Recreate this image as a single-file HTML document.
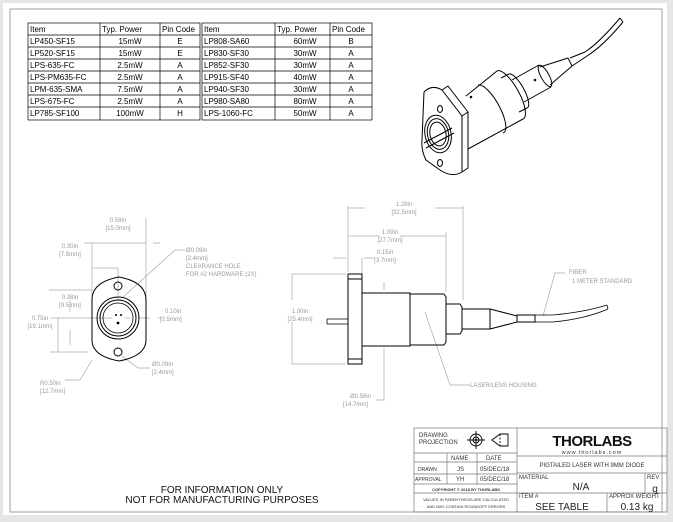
<!DOCTYPE html>
<html><head><meta charset="utf-8"><style>
html,body{margin:0;padding:0;background:#e6e6e6;}
svg{display:block;font-family:"Liberation Sans",sans-serif;}
.d{font-size:6px;fill:#9a9a9a;}
.t{font-size:8px;fill:#000;}
.k{stroke:#000;fill:none;stroke-width:1;}
.g{stroke:#aaa;fill:none;stroke-width:0.7;}
</style></head><body>
<svg width="673" height="522" viewBox="0 0 673 522">
<rect x="0" y="0" width="673" height="522" fill="#e6e6e6"/>
<rect x="3" y="3" width="664" height="512" fill="#fff"/>
<rect x="10" y="9" width="652" height="503" fill="none" stroke="#888" stroke-width="0.8"/>

<!-- tables -->
<g stroke="#000" stroke-width="0.7" fill="none">
<rect x="28" y="23" width="172" height="97"/>
<line x1="100" y1="23" x2="100" y2="120"/><line x1="160" y1="23" x2="160" y2="120"/>
<rect x="202" y="23" width="170" height="97"/>
<line x1="275" y1="23" x2="275" y2="120"/><line x1="330" y1="23" x2="330" y2="120"/>
<path d="M28 35H200M28 47H200M28 59H200M28 71H200M28 83H200M28 95H200M28 107H200"/>
<path d="M202 35H372M202 47H372M202 59H372M202 71H372M202 83H372M202 95H372M202 107H372"/>
</g>
<g class="t">
<text x="30" y="32">Item</text><text x="102" y="32">Typ. Power</text><text x="162" y="32">Pin Code</text>
<text x="30" y="44">LP450-SF15</text><text x="30" y="56">LP520-SF15</text><text x="30" y="68">LPS-635-FC</text><text x="30" y="80">LPS-PM635-FC</text><text x="30" y="92">LPM-635-SMA</text><text x="30" y="104">LPS-675-FC</text><text x="30" y="116">LP785-SF100</text>
<g text-anchor="middle"><text x="130" y="44">15mW</text><text x="130" y="56">15mW</text><text x="130" y="68">2.5mW</text><text x="130" y="80">2.5mW</text><text x="130" y="92">7.5mW</text><text x="130" y="104">2.5mW</text><text x="130" y="116">100mW</text>
<text x="180" y="44">E</text><text x="180" y="56">E</text><text x="180" y="68">A</text><text x="180" y="80">A</text><text x="180" y="92">A</text><text x="180" y="104">A</text><text x="180" y="116">H</text></g>
<text x="204" y="32">Item</text><text x="277" y="32">Typ. Power</text><text x="332" y="32">Pin Code</text>
<text x="204" y="44">LP808-SA60</text><text x="204" y="56">LP830-SF30</text><text x="204" y="68">LP852-SF30</text><text x="204" y="80">LP915-SF40</text><text x="204" y="92">LP940-SF30</text><text x="204" y="104">LP980-SA80</text><text x="204" y="116">LPS-1060-FC</text>
<g text-anchor="middle"><text x="305" y="44">60mW</text><text x="305" y="56">30mW</text><text x="305" y="68">30mW</text><text x="305" y="80">40mW</text><text x="305" y="92">30mW</text><text x="305" y="104">80mW</text><text x="305" y="116">50mW</text>
<text x="351" y="44">B</text><text x="351" y="56">A</text><text x="351" y="68">A</text><text x="351" y="80">A</text><text x="351" y="92">A</text><text x="351" y="104">A</text><text x="351" y="116">A</text></g>
</g>

<!-- 3D view -->
<g class="k" stroke-width="0.9">
<!-- fiber -->
<path d="M585 52 Q600 42 620 18 M587 56 Q603 46 623 22 M620 18 L623 22"/>
<!-- sleeve -->
<path d="M570 58 L585 52 M572 66 L587 56"/>
<!-- cone -->
<path d="M540 67 L568 58 M550 85 L572 66 M568 58 L572 66"/>
<!-- neck -->
<path d="M512 80 L539 65 M524 102 L551 87"/>
<ellipse cx="545" cy="76" rx="12" ry="4" transform="rotate(61 545 76)"/>
<!-- step ring -->
<path d="M501 78 L509 74 M519 112 L527 108"/>
<path d="M509 74 A19 6 61 0 1 527 108"/>
<!-- body -->
<path d="M466 96 L497 71 M468 149 L523 119"/>
<path d="M497 71 A27 9 61 0 1 523 119"/>
<path d="M478 85 A27 9 61 0 1 503 133"/>
<!-- flange -->
<path d="M424 92 Q432 84 442 90 L462 116 L462 172 Q452 178 440 170 L426 160 Q421 150 422 140 Z" fill="#fff"/>
<path d="M442 90 L448 86 L468 112 L468 168 L462 172 M462 116 L468 112"/>
<ellipse cx="438" cy="134" rx="13" ry="19" transform="rotate(-12 438 134)"/>
<ellipse cx="438" cy="134" rx="10.5" ry="15.5" transform="rotate(-12 438 134)"/>
<ellipse cx="438" cy="134" rx="8" ry="12" transform="rotate(-12 438 134)"/>
<ellipse cx="440" cy="109" rx="2.5" ry="3.5"/><ellipse cx="440" cy="163" rx="2.5" ry="3.5"/>
<path d="M424 143 L452 128 M426 148 L454 133"/>
<circle cx="471" cy="97" r="0.8"/><circle cx="535" cy="80" r="0.8"/>
</g>

<!-- front view -->
<g class="g">
<path d="M92 243V300M146 218V300M84 243H92M153 243H160M92 243h54"/>
<path d="M92 268H108M118 268V300M108 268h10"/>
<path d="M50 318H88M50 352H88M58 318V352M49 290H92M70 318H112M70 300V312M70 330V345"/>
<path d="M138 318H150 M125 318H130 M158 318h4"/>
<path d="M122 298 L175 250 H185"/>
<path d="M122 356 L138 368 H150"/>
<path d="M92 360 L80 380 H65"/>
</g>
<g class="k" stroke-width="1.1">
<path d="M92 300 Q92 282 119 277 Q146 282 146 300 V340 Q146 356 119 361 Q92 356 92 340Z"/>
<circle cx="118" cy="318" r="21"/><circle cx="118" cy="318" r="18"/><circle cx="118" cy="318" r="15" stroke-width="0.8"/>
<circle cx="118" cy="286" r="4"/><circle cx="118" cy="352" r="4"/>
</g>
<circle cx="116" cy="315" r="1" fill="#000"/><circle cx="121" cy="315" r="1" fill="#000"/><circle cx="118" cy="323" r="1.4" fill="#000"/>
<g class="d">
<text x="118" y="222" text-anchor="middle">0.59in</text><text x="118" y="230" text-anchor="middle">[15.0mm]</text>
<text x="70" y="248" text-anchor="middle">0.30in</text><text x="70" y="256" text-anchor="middle">[7.5mm]</text>
<text x="70" y="299" text-anchor="middle">0.38in</text><text x="70" y="307" text-anchor="middle">[9.5mm]</text>
<text x="40" y="320" text-anchor="middle">0.75in</text><text x="40" y="328" text-anchor="middle">[19.1mm]</text>
<text x="165" y="313">0.10in</text><text x="160" y="321">[2.5mm]</text>
<text x="186" y="252">Ø0.09in</text><text x="186" y="260">[2.4mm]</text><text x="186" y="268">CLEARANCE HOLE</text><text x="186" y="276">FOR #2 HARDWARE (2X)</text>
<text x="152" y="366">Ø0.09in</text><text x="152" y="374">[2.4mm]</text>
<text x="40" y="385">R0.50in</text><text x="40" y="393">[12.7mm]</text>
</g>

<!-- side view -->
<g class="g">
<path d="M348 206V272M463 206V300M348 208H365M435 208H463M348 236H380M400 236H446M446 232V292M333 258H346M364 258H374M362 258V292"/>
<path d="M292 274H346M292 364H346M292 274V300M292 322V364"/>
<path d="M384 290V282M384 348V400H376"/>
<path d="M425 312 L450 385 H470"/>
<path d="M543 316 L555 273 H565"/>
</g>
<g class="k">
<rect x="348" y="274" width="14" height="90"/><path d="M348 279H362M348 359H362"/>
<rect x="362" y="293" width="48" height="53"/>
<path d="M410 294H444L446 297V342L444 345H410Z"/>
<path d="M446 304H460L462 307V331L460 334H446Z"/>
<rect x="462" y="309" width="28" height="20"/>
<path d="M490 309L517 316V322L490 329"/>
<rect x="517" y="315" width="18" height="7"/>
<path d="M535 315H553Q585 312 607 305M535 322H553Q585 319 608 309M607 305L608 309" stroke-width="0.8"/>
<path d="M327 319H348M327 324H348M327 319V324" stroke-width="0.8"/>
</g>
<g class="d">
<text x="404" y="206" text-anchor="middle">1.28in</text><text x="404" y="214" text-anchor="middle">[32.5mm]</text>
<text x="390" y="234" text-anchor="middle">1.09in</text><text x="390" y="242" text-anchor="middle">[27.7mm]</text>
<text x="385" y="254" text-anchor="middle">0.15in</text><text x="385" y="262" text-anchor="middle">[3.7mm]</text>
<text x="300" y="313" text-anchor="middle">1.00in</text><text x="300" y="321" text-anchor="middle">[25.4mm]</text>
<text x="350" y="398">Ø0.58in</text><text x="343" y="406">[14.7mm]</text>
<text x="470" y="387">LASER/LENS HOUSING</text>
<text x="569" y="274">FIBER</text><text x="572" y="283">1 METER STANDARD</text>
</g>

<g text-anchor="middle" font-size="10" fill="#111">
<text x="222" y="493">FOR INFORMATION ONLY</text>
<text x="222" y="503">NOT FOR MANUFACTURING PURPOSES</text>
</g>

<!-- title block -->
<g stroke="#777" stroke-width="0.7" fill="none">
<rect x="414" y="428" width="253" height="84"/>
<path d="M517 428V512M414 453H517M414 462H517M414 474H517M414 484H517M414 493H517M447 453V484M477 453V484"/>
<path d="M517 456H667M517 473H667M517 493H667M645 473V493M607 493V512"/>
</g>
<g stroke="#000" fill="none" stroke-width="0.9">
<circle cx="476" cy="440" r="6"/><circle cx="476" cy="440" r="3"/><path d="M467 440H485M476 431V449"/>
<path d="M492 440L500 434H508V446H500Z"/><path d="M500 434V446" stroke-dasharray="2,1.5"/>
</g>
<circle cx="476" cy="440" r="1" fill="#000"/>
<g font-size="6" fill="#333">
<text x="419" y="437">DRAWING</text><text x="419" y="444">PROJECTION</text>
<text x="451" y="460">NAME</text><text x="486" y="460">DATE</text>
<text x="418" y="471" font-size="5">DRAWN</text><text x="457" y="471">JS</text><text x="480" y="471">05/DEC/18</text>
<text x="415" y="481" font-size="5">APPROVAL</text><text x="456" y="481">YH</text><text x="480" y="481">05/DEC/18</text>
<text x="466" y="491" font-size="4" text-anchor="middle" font-weight="bold">COPYRIGHT © 2018 BY THORLABS</text>
<text x="466" y="501" font-size="4" text-anchor="middle">VALUES IN PARENTHESIS ARE CALCULATED</text>
<text x="466" y="508" font-size="4" text-anchor="middle">AND MAY CONTAIN ROUNDOFF ERRORS</text>
<text x="592" y="467" text-anchor="middle">PIGTAILED LASER WITH 9MM DIODE</text>
<text x="519" y="479">MATERIAL</text><text x="647" y="479">REV</text>
<text x="519" y="498">ITEM #</text><text x="609" y="498">APPROX WEIGHT</text>
</g>
<text x="592" y="446" text-anchor="middle" font-size="15" font-weight="bold" fill="#111" letter-spacing="-0.5">THORLABS</text>
<text x="592" y="454" text-anchor="middle" font-size="5.5" fill="#333" letter-spacing="1">www.thorlabs.com</text>
<text x="581" y="490" text-anchor="middle" font-size="10" fill="#222">N/A</text>
<text x="655" y="492" text-anchor="middle" font-size="10" fill="#222">g</text>
<text x="562" y="510" text-anchor="middle" font-size="10" fill="#222">SEE TABLE</text>
<text x="637" y="510" text-anchor="middle" font-size="10" fill="#222">0.13 kg</text>
</svg>
</body></html>
